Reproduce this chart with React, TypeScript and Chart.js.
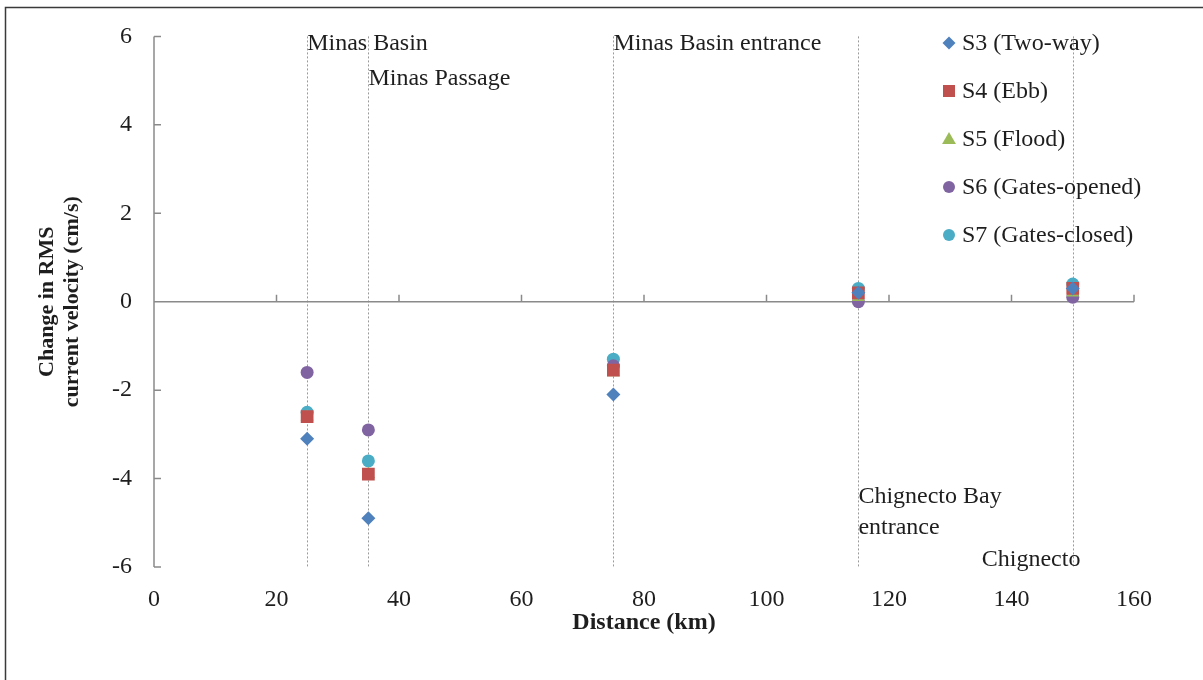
import { useEffect, useRef } from "react";
import { Chart, registerables } from "chart.js";

Chart.register(...registerables);

// ---- data ----
const distances = [25, 35, 75, 115, 150];
const seriesLabels = ["S3 (Two-way)", "S4 (Ebb)", "S5 (Flood)", "S6 (Gates-opened)", "S7 (Gates-closed)"];
const s3Values = [-3.1, -4.9, -2.1, 0.2, 0.3];
const s4Values = [-2.6, -3.9, -1.55, 0.2, 0.3];
const s5Values = [-2.6, -3.9, -1.6, 0.1, 0.2];
const s6Values = [-1.6, -2.9, -1.45, 0.0, 0.1];
const s7Values = [-2.5, -3.6, -1.3, 0.3, 0.4];
const seriesColors = ["#4F81BD", "#C0504D", "#9BBB59", "#8064A2", "#4BACC6"];
const seriesStyles = ["rectRot", "rect", "triangle", "circle", "circle"];
const seriesRadii = [7, 9, 7.5, 6.5, 6.5];

const sectionLines = [25, 35, 75, 115, 150];
const sectionNames = [
  ["Minas Basin"],
  ["Minas Passage"],
  ["Minas Basin entrance"],
  ["Chignecto Bay", "entrance"],
  ["Chignecto"],
];

const xTickValues = [0, 20, 40, 60, 80, 100, 120, 140, 160];
const yTickValues = [-6, -4, -2, 0, 2, 4, 6];

const FONT = "'Liberation Serif', 'DejaVu Serif', serif";
const TEXT = "#1e1e1e";
const AXIS = "#8a8a8a";

const allSeries = [s3Values, s4Values, s5Values, s6Values, s7Values];

function drawMarker(ctx: CanvasRenderingContext2D, style: string, x: number, y: number, r: number, color: string) {
  ctx.save();
  ctx.fillStyle = color;
  ctx.beginPath();
  if (style === "rectRot") {
    ctx.moveTo(x, y - r);
    ctx.lineTo(x + r, y);
    ctx.lineTo(x, y + r);
    ctx.lineTo(x - r, y);
    ctx.closePath();
  } else if (style === "rect") {
    const s = Math.SQRT1_2 * r;
    ctx.rect(x - s, y - s, 2 * s, 2 * s);
  } else if (style === "triangle") {
    ctx.moveTo(x, y - r);
    ctx.lineTo(x + r * 0.866, y + r * 0.5);
    ctx.lineTo(x - r * 0.866, y + r * 0.5);
    ctx.closePath();
  } else {
    ctx.arc(x, y, r, 0, Math.PI * 2);
  }
  ctx.fill();
  ctx.restore();
}

const decorPlugin = {
  id: "decor",
  beforeDraw(chart: any) {
    const { ctx, width, height } = chart;
    ctx.save();
    ctx.fillStyle = "#ffffff";
    ctx.fillRect(0, 0, width, height);
    ctx.strokeStyle = "#3a3a3a";
    ctx.lineWidth = 1.5;
    ctx.beginPath();
    ctx.moveTo(5.5, height);
    ctx.lineTo(5.5, 7.5);
    ctx.lineTo(width, 7.5);
    ctx.stroke();
    ctx.restore();
  },
  beforeDatasetsDraw(chart: any) {
    const { ctx, chartArea } = chart;
    const xs = chart.scales.x;
    const ys = chart.scales.y;
    ctx.save();
    // dotted section lines
    ctx.strokeStyle = "#9a9a9a";
    ctx.lineWidth = 1;
    ctx.setLineDash([2, 2]);
    sectionLines.forEach((d) => {
      const px = Math.round(xs.getPixelForValue(d)) + 0.5;
      ctx.beginPath();
      ctx.moveTo(px, chartArea.top);
      ctx.lineTo(px, chartArea.bottom);
      ctx.stroke();
    });
    ctx.setLineDash([]);
    // axes
    ctx.strokeStyle = AXIS;
    ctx.lineWidth = 1.5;
    const y0 = ys.getPixelForValue(0);
    const x0 = xs.getPixelForValue(0);
    ctx.beginPath();
    ctx.moveTo(x0, chartArea.top);
    ctx.lineTo(x0, chartArea.bottom);
    yTickValues.forEach((v) => {
      const py = ys.getPixelForValue(v);
      ctx.moveTo(x0, py);
      ctx.lineTo(x0 + 7, py);
    });
    ctx.moveTo(x0, y0);
    ctx.lineTo(xs.getPixelForValue(160), y0);
    xTickValues.slice(1).forEach((v) => {
      const px = xs.getPixelForValue(v);
      ctx.moveTo(px, y0);
      ctx.lineTo(px, y0 - 7);
    });
    ctx.stroke();
    // section annotations
    ctx.fillStyle = TEXT;
    ctx.font = `24px ${FONT}`;
    ctx.textBaseline = "middle";
    ctx.textAlign = "left";
    const labelY = [[44], [79], [44], [497, 528], [560]];
    const labelDx = [0, 0, 0, 0, -91];
    sectionNames.forEach((lines, i) => {
      const px = xs.getPixelForValue(sectionLines[i]) + labelDx[i];
      lines.forEach((t, j) => ctx.fillText(t, px, labelY[i][j]));
    });
    ctx.restore();
  },
  afterDatasetsDraw(chart: any) {
    const { ctx } = chart;
    ctx.save();
    ctx.font = `24px ${FONT}`;
    ctx.fillStyle = TEXT;
    ctx.textBaseline = "middle";
    ctx.textAlign = "left";
    seriesLabels.forEach((label, i) => {
      const cy = 43 + i * 48;
      const st = seriesStyles[i];
      const r = st === "rect" ? 8.5 : st === "rectRot" ? 6.5 : st === "triangle" ? 8 : 6;
      drawMarker(ctx, st, 949, st === "triangle" ? cy + 1 : cy, r, seriesColors[i]);
      ctx.fillStyle = TEXT;
      ctx.fillText(label, 962, cy + 1);
    });
    ctx.restore();
  },
};

export default function App() {
  const canvasRef = useRef<HTMLCanvasElement | null>(null);

  useEffect(() => {
    if (!canvasRef.current) return;
    const datasets = seriesLabels.map((label, i) => ({
      label,
      data: distances.map((d, k) => ({ x: d, y: allSeries[i][k] })),
      backgroundColor: seriesColors[i],
      borderColor: seriesColors[i],
      pointStyle: seriesStyles[i] as any,
      pointRadius: seriesRadii[i],
      pointBorderWidth: 0,
      showLine: false,
    }));
    const chart = new Chart(canvasRef.current, {
      type: "scatter",
      data: { datasets },
      plugins: [decorPlugin],
      options: {
        animation: false,
        responsive: true,
        maintainAspectRatio: false,
        layout: { padding: { top: 33, right: 69, bottom: 0, left: 0 } },
        plugins: {
          legend: { display: false },
          tooltip: { enabled: false },
        },
        scales: {
          x: {
            type: "linear",
            min: 0,
            max: 160,
            afterBuildTicks: (scale: any) => {
              scale.ticks = xTickValues.map((v) => ({ value: v }));
            },
            afterFit: (scale: any) => {
              scale.height = 113;
            },
            grid: { display: false, drawTicks: false },
            border: { display: false },
            ticks: {
              padding: 18,
              color: TEXT,
              font: { family: FONT, size: 24, lineHeight: 1.2 },
              maxRotation: 0,
            },
            title: {
              display: true,
              text: "Distance (km)",
              color: TEXT,
              font: { family: FONT, size: 24, weight: "bold", lineHeight: 1.2 },
              padding: { top: 0, bottom: 43 },
            },
          },
          y: {
            type: "linear",
            min: -6,
            max: 6,
            afterBuildTicks: (scale: any) => {
              scale.ticks = yTickValues.map((v) => ({ value: v }));
            },
            afterFit: (scale: any) => {
              scale.width = 154;
            },
            grid: { display: false, drawTicks: false },
            border: { display: false },
            ticks: {
              padding: 22,
              color: TEXT,
              font: { family: FONT, size: 24, lineHeight: 1.2 },
            },
            title: {
              display: true,
              text: ["Change in RMS", "current velocity (cm/s)"],
              color: TEXT,
              font: { family: FONT, size: 22, weight: "bold", lineHeight: 1.14 },
              padding: { top: 34.5, bottom: 0 },
            },
          },
        },
      } as any,
    });
    return () => chart.destroy();
  }, []);

  return (
    <div style={{ position: "absolute", left: 0, top: 0, width: 1203, height: 680, background: "#fff" }}>
      <canvas ref={canvasRef} />
    </div>
  );
}
